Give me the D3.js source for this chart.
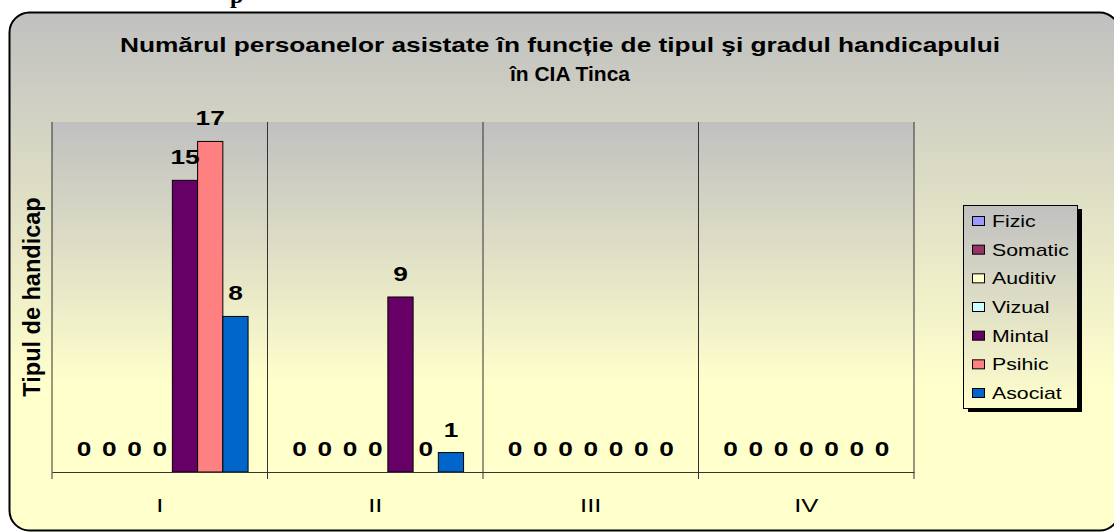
<!DOCTYPE html>
<html>
<head>
<meta charset="utf-8">
<script src="https://cdn.jsdelivr.net/npm/d3@7"></script>
<style>
  body { margin: 0; background: #fff; }
  text { font-family: Arial, "Liberation Sans", sans-serif; }
</style>
</head>
<body>
<svg id="chart" width="1114" height="532"></svg>
<script>
// data
var categories = ["I", "II", "III", "IV"];
var seriesNames = ["Fizic", "Somatic", "Auditiv", "Vizual", "Mintal", "Psihic", "Asociat"];
var seriesColors = ["#9999FF", "#993366", "#FFFFCC", "#CCFFFF", "#660066", "#FF8080", "#0066CC"];
// values[category][series]
var valuesI   = [0, 0, 0, 0, 15, 17, 8];
var valuesII  = [0, 0, 0, 0, 9, 0, 1];
var valuesIII = [0, 0, 0, 0, 0, 0, 0];
var valuesIV  = [0, 0, 0, 0, 0, 0, 0];
var values = [valuesI, valuesII, valuesIII, valuesIV];
var yMax = 18;

var titleLines = ["Numărul persoanelor asistate în funcție de tipul şi gradul handicapului", "în CIA Tinca"];
var yTitle = "Tipul de handicap";

var svg = d3.select("#chart");
var defs = svg.append("defs");

function grad(id, stop) {
  var g = defs.append("linearGradient").attr("id", id)
      .attr("x1", 0).attr("y1", 0).attr("x2", 0).attr("y2", 1);
  g.append("stop").attr("offset", 0).attr("stop-color", "#C0C0C0");
  g.append("stop").attr("offset", stop).attr("stop-color", "#FFFFCC");
}
grad("bgGrad", 0.72);
grad("plotGrad", 0.75);
grad("legGrad", 1);

// stray heading fragment above the chart
svg.append("text")
    .attr("x", 230).attr("y", 3)
    .style("font-family", "'Liberation Serif', 'Times New Roman', serif")
    .style("font-weight", "bold").style("font-size", "24px")
    .text("p");

// outer chart area
svg.append("rect")
    .attr("x", 9.5).attr("y", 12.5)
    .attr("width", 1110).attr("height", 518)
    .attr("rx", 20).attr("ry", 20)
    .attr("fill", "url(#bgGrad)")
    .attr("stroke", "#000").attr("stroke-width", 2);

// title
svg.append("text")
    .attr("x", 560).attr("y", 52)
    .attr("text-anchor", "middle")
    .attr("textLength", 880).attr("lengthAdjust", "spacingAndGlyphs")
    .style("font-weight", "bold").style("font-size", "21px")
    .text(titleLines[0]);
svg.append("text")
    .attr("x", 570).attr("y", 81)
    .attr("text-anchor", "middle")
    .attr("textLength", 120).attr("lengthAdjust", "spacingAndGlyphs")
    .style("font-weight", "bold").style("font-size", "21px")
    .text(titleLines[1]);

// plot area
var plot = {left: 52, right: 914, top: 122, bottom: 472};

var x0 = d3.scaleBand()
    .domain(categories)
    .range([plot.left, plot.right])
    .padding(0);

var x1 = d3.scaleBand()
    .domain(seriesNames)
    .range([0, x0.bandwidth()])
    .paddingInner(0)
    .paddingOuter(0.77);

var y = d3.scaleLinear()
    .domain([0, yMax])
    .range([plot.bottom, plot.top]);

svg.append("rect")
    .attr("x", plot.left).attr("y", plot.top)
    .attr("width", plot.right - plot.left).attr("height", plot.bottom - plot.top)
    .attr("fill", "url(#plotGrad)");

// vertical gridlines at category boundaries
var bounds = categories.map(function(c) { return x0(c); }).concat([plot.right]);
svg.append("g").selectAll("line")
    .data(bounds)
  .enter().append("line")
    .attr("x1", function(d) { return d; })
    .attr("x2", function(d) { return d; })
    .attr("y1", plot.top)
    .attr("y2", plot.bottom + 7)
    .attr("stroke", "#333").attr("stroke-width", 1);

// bars
var groups = svg.append("g").selectAll("g")
    .data(values)
  .enter().append("g")
    .attr("transform", function(d, i) { return "translate(" + x0(categories[i]) + ",0)"; });

groups.selectAll("rect")
    .data(function(d) { return d.map(function(v, j) { return {name: seriesNames[j], value: v, color: seriesColors[j]}; }); })
  .enter().filter(function(d) { return d.value > 0; }).append("rect")
    .attr("x", function(d) { return x1(d.name); })
    .attr("y", function(d) { return y(d.value); })
    .attr("width", x1.bandwidth())
    .attr("height", function(d) { return y(0) - y(d.value); })
    .attr("fill", function(d) { return d.color; })
    .attr("stroke", "#000").attr("stroke-width", 1);

// value labels
groups.selectAll("g.lbl")
    .data(function(d) { return d.map(function(v, j) { return {name: seriesNames[j], value: v}; }); })
  .enter().append("g")
    .attr("class", "lbl")
    .attr("transform", function(d) {
      return "translate(" + (x1(d.name) + x1.bandwidth() / 2) + "," + (y(d.value) - 16) + ") scale(1.25,1)";
    })
  .append("text")
    .attr("text-anchor", "middle")
    .style("font-weight", "bold").style("font-size", "21px")
    .text(function(d) { return d.value; });

// x axis
var xAxis = svg.append("g")
    .attr("transform", "translate(0," + plot.bottom + ")")
    .call(d3.axisBottom(x0).tickSize(0).tickPadding(0));
xAxis.select(".domain").attr("stroke", "#333");
xAxis.selectAll(".tick text")
    .attr("y", 0).attr("dy", null)
    .attr("transform", "translate(0,40) scale(1.35,1)")
    .attr("fill", "#000")
    .style("font-size", "19px")
    .style("font-family", "Arial, 'Liberation Sans', sans-serif");

// y axis title
svg.append("text")
    .attr("transform", "translate(40," + ((plot.top + plot.bottom) / 2) + ") rotate(-90)")
    .attr("text-anchor", "middle")
    .style("font-weight", "bold").style("font-size", "23.5px")
    .text(yTitle);

// legend
var leg = {x: 963, y: 205, w: 114, h: 203};
svg.append("rect")
    .attr("x", leg.x + 5).attr("y", leg.y + 4)
    .attr("width", leg.w).attr("height", leg.h)
    .attr("fill", "#000");
svg.append("rect")
    .attr("x", leg.x + 0.5).attr("y", leg.y + 0.5)
    .attr("width", leg.w).attr("height", leg.h)
    .attr("fill", "url(#legGrad)")
    .attr("stroke", "#000").attr("stroke-width", 1);

var legY = d3.scalePoint()
    .domain(seriesNames)
    .range([leg.y + 16, leg.y + 188]);

var items = svg.append("g").selectAll("g")
    .data(seriesNames)
  .enter().append("g")
    .attr("transform", function(d) { return "translate(" + leg.x + "," + legY(d) + ")"; });

items.append("rect")
    .attr("x", 9.5).attr("y", -4.5)
    .attr("width", 12).attr("height", 9)
    .attr("fill", function(d, i) { return seriesColors[i]; })
    .attr("stroke", "#000").attr("stroke-width", 1);

items.append("text")
    .attr("transform", "translate(29,6) scale(1.33,1)")
    .style("font-size", "16px")
    .text(function(d) { return d; });
</script>
</body>
</html>
